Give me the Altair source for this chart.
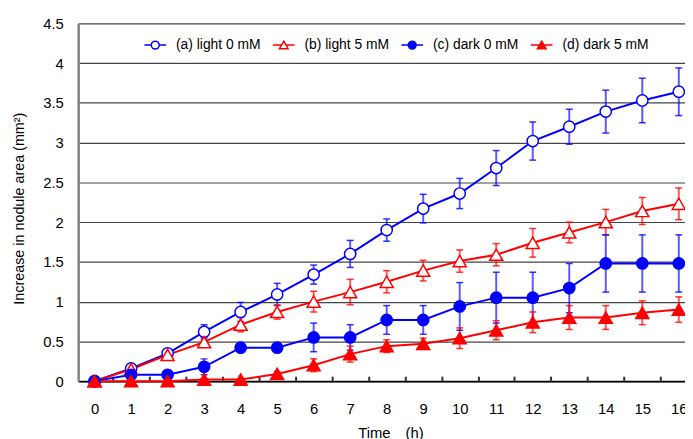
import altair as alt
import pandas as pd

# ---------------- data ----------------
hours = list(range(17))
series = ["(a) light 0 mM", "(b) light 5 mM", "(c) dark 0 mM", "(d) dark 5 mM"]

a_mean = [0, 0.16, 0.35, 0.62, 0.87, 1.09, 1.34, 1.60, 1.90, 2.17, 2.36, 2.68, 3.02, 3.20, 3.39, 3.53, 3.64]
a_err = [0, 0.05, 0.03, 0.09, 0.12, 0.14, 0.12, 0.17, 0.14, 0.18, 0.19, 0.22, 0.24, 0.22, 0.27, 0.28, 0.30]

b_mean = [0, 0.15, 0.33, 0.49, 0.71, 0.87, 1.00, 1.12, 1.25, 1.39, 1.51, 1.59, 1.74, 1.87, 2.00, 2.14, 2.23]
b_err = [0, 0.03, 0.04, 0.06, 0.09, 0.09, 0.13, 0.16, 0.14, 0.13, 0.14, 0.14, 0.18, 0.13, 0.16, 0.17, 0.20]

c_mean = [0, 0.08, 0.08, 0.18, 0.42, 0.42, 0.55, 0.55, 0.77, 0.77, 0.94, 1.05, 1.05, 1.17, 1.48, 1.48, 1.48]
c_err = [0, 0.02, 0.02, 0.10, 0.04, 0.03, 0.18, 0.16, 0.18, 0.18, 0.30, 0.32, 0.32, 0.31, 0.36, 0.36, 0.36]

d_mean = [0, 0, 0, 0.02, 0.02, 0.09, 0.20, 0.34, 0.44, 0.47, 0.54, 0.64, 0.74, 0.80, 0.80, 0.86, 0.90]
d_err = [0, 0, 0, 0.01, 0.01, 0.03, 0.08, 0.10, 0.08, 0.07, 0.13, 0.12, 0.13, 0.15, 0.15, 0.15, 0.16]

y_ticks = [0, 0.5, 1, 1.5, 2, 2.5, 3, 3.5, 4, 4.5]
x_minor_ticks = [h + 0.5 for h in hours[:-1]]

means = [a_mean, b_mean, c_mean, d_mean]
errs = [a_err, b_err, c_err, d_err]

rows = []
for name, m, e in zip(series, means, errs):
    for h, v, s in zip(hours, m, e):
        rows.append({"series": name, "hour": h, "mean": v, "lo": v - s, "hi": v + s})
df = pd.DataFrame(rows)

# ---------------- styling ----------------
BLUE = "#0000FF"
RED = "#FF0000"
stroke_range = [BLUE, RED, BLUE, RED]
fill_range = ["white", "white", BLUE, RED]
FONT = "Liberation Sans"

circle_path = "M-0.95,0A0.95,0.95,0,1,0,0.95,0A0.95,0.95,0,1,0,-0.95,0Z"
tri_path = "M0,-0.95L1.1,0.95L-1.1,0.95Z"
plot_shapes = [circle_path, tri_path, circle_path, tri_path]

leg_open_circle = "M-2.75,0H-1M1,0H2.75M-1,0A1,1,0,1,0,1,0A1,1,0,1,0,-1,0Z"
leg_open_tri = "M-2.75,0H-0.6M0.6,0H2.75M0,-1L1.1,0.9L-1.1,0.9Z"
leg_full_circle = "M-2.75,0H2.75M-1,0A1,1,0,1,0,1,0A1,1,0,1,0,-1,0Z"
leg_full_tri = "M-2.75,0H2.75M0,-1L1.1,0.9L-1.1,0.9Z"
legend_shapes = [leg_open_circle, leg_open_tri, leg_full_circle, leg_full_tri]

W, H = 614, 362

xscale = alt.Scale(domain=[-0.45, 16.17], nice=False, zero=False)
yscale = alt.Scale(domain=[0, 4.5], nice=False, zero=False)

x_axis = alt.Axis(
    values=hours, format="d", ticks=False, grid=False,
    domainColor="black", domainWidth=2,
    labelFont=FONT, labelFontSize=15, labelColor="black", labelPadding=21,
    title="Time\u3000(h)", titleFont=FONT, titleFontSize=15, titleFontWeight="normal",
    titleColor="black", titleX=316, titleY=45, titleBaseline="top",
)
y_axis = alt.Axis(
    values=y_ticks, format="~g", ticks=False, grid=True,
    gridColor="#444444", gridWidth=1.2,
    domainColor="#808080", domainWidth=2.5,
    labelFont=FONT, labelFontSize=15, labelColor="black", labelPadding=15,
    title="Increase in nodule area (mm²)", titleFont=FONT, titleFontSize=14.5,
    titleFontWeight="normal", titleColor="black", titleX=-52, titleY=187,
)

X = alt.X("hour:Q", scale=xscale, axis=x_axis)
color = alt.Color("series:N", scale=alt.Scale(domain=series, range=stroke_range), legend=None)

base = alt.Chart(df)

lines = base.mark_line(strokeWidth=2).encode(
    x=X, y=alt.Y("mean:Q", scale=yscale, axis=y_axis), color=color,
    order=alt.Order("hour:Q"),
)
bars = base.mark_rule(strokeWidth=2, opacity=0.65).encode(
    x=X, y=alt.Y("lo:Q", scale=yscale, axis=y_axis), y2="hi:Q", color=color,
)
caps_lo = base.mark_tick(orient="horizontal", size=7, thickness=1.5, opacity=0.8).encode(
    x=X, y=alt.Y("lo:Q", scale=yscale, axis=y_axis), color=color,
)
caps_hi = base.mark_tick(orient="horizontal", size=7, thickness=1.5, opacity=0.8).encode(
    x=X, y=alt.Y("hi:Q", scale=yscale, axis=y_axis), color=color,
)
points = base.mark_point(filled=True, opacity=1, strokeWidth=1.5, size=144).encode(
    x=X, y=alt.Y("mean:Q", scale=yscale, axis=y_axis),
    shape=alt.Shape("series:N", scale=alt.Scale(domain=series, range=plot_shapes), legend=None),
    fill=alt.Fill("series:N", scale=alt.Scale(domain=series, range=fill_range), legend=None),
    stroke=alt.Stroke("series:N", scale=alt.Scale(domain=series, range=stroke_range), legend=None),
)

inner = alt.layer(lines, bars, caps_lo, caps_hi, points)

# inward minor ticks at the half hours (Excel category-axis ticks)
tick_axis = alt.Axis(
    orient="top", offset=-H, values=x_minor_ticks, labels=False, domain=False,
    grid=False, ticks=True, tickSize=5, tickColor="#333333", tickWidth=2, title=None,
)
tick_layer = base.mark_point(opacity=0).encode(
    x=alt.X("hour:Q", scale=xscale, axis=tick_axis),
)

leg = alt.Legend(
    title=None, orient="none", legendX=64, legendY=15, direction="horizontal",
    symbolSize=64, symbolStrokeWidth=1.5, symbolOffset=7, labelOffset=14,
    labelFont=FONT, labelFontSize=14, labelColor="black", columnPadding=9,
    symbolOpacity=1, padding=0,
)
legend_layer = base.transform_filter("datum.hour < 0").mark_point(
    filled=True, opacity=1, strokeWidth=1.5
).encode(
    shape=alt.Shape("series:N", scale=alt.Scale(domain=series, range=legend_shapes), legend=leg),
    fill=alt.Fill("series:N", scale=alt.Scale(domain=series, range=fill_range), legend=leg),
    stroke=alt.Stroke("series:N", scale=alt.Scale(domain=series, range=stroke_range), legend=leg),
)

chart = (
    alt.layer(inner, tick_layer, legend_layer)
    .resolve_axis(x="independent")
    .resolve_scale(shape="independent", fill="independent", stroke="independent")
    .properties(
        width=W, height=H,
        autosize=alt.AutoSizeParams(type="none"),
        padding={"left": 71, "top": 13, "right": 0, "bottom": 56},
        background="white",
    )
    .configure_view(stroke=None)
)

chart.save("out.html", embed_options={"renderer": "svg", "actions": False})
